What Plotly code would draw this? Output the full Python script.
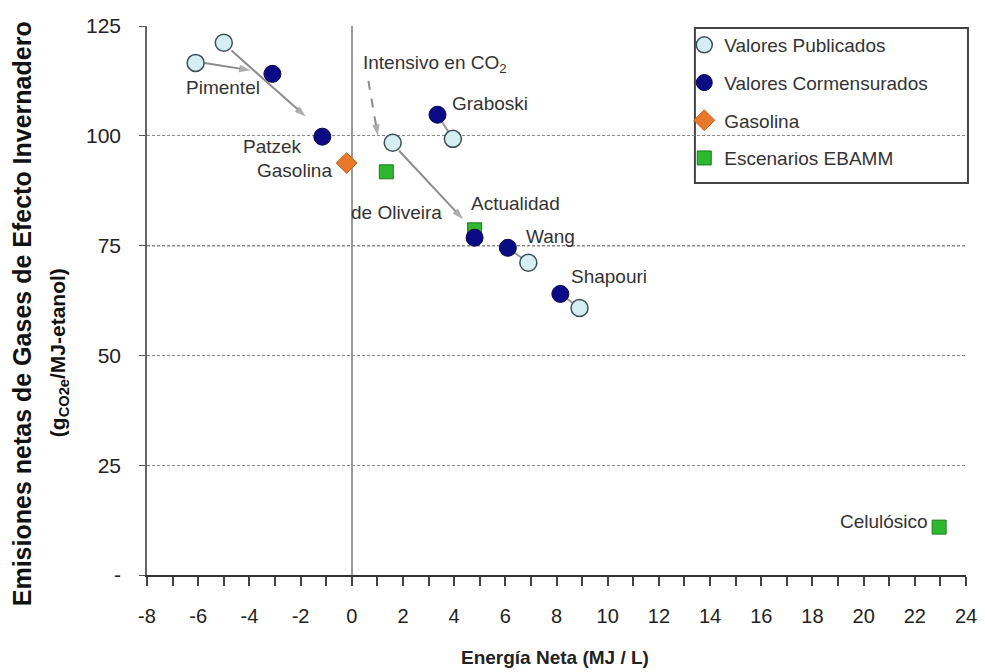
import plotly.graph_objects as go

# ---- data ----
pub_x = [-6.1, -5.0, 1.6, 3.95, 6.9, 8.9]
pub_y = [116.6, 121.2, 98.4, 99.3, 71.1, 60.8]
com_x = [-3.1, -1.15, 3.35, 4.8, 6.1, 8.15]
com_y = [114.1, 99.8, 104.8, 76.8, 74.5, 64.0]
gas_x = [-0.2]
gas_y = [93.8]
eb_x = [1.35, 4.8, 22.95]
eb_y = [91.8, 78.6, 10.9]

# pairs (published -> commensurate) linked by short segments
pair_idx = [(3, 2), (4, 4), (5, 5)]

arrow_tail_x = [-5.75, -4.7, 1.85, 0.65]
arrow_tail_y = [116.6, 119.4, 96.6, 112.5]
arrow_head_x = [-3.95, -1.8, 4.35, 1.02]
arrow_head_y = [114.9, 104.4, 81.0, 100.0]
arrow_dash = ["solid", "solid", "solid", "dash"]

labels = ["Pimentel", "Patzek", "Gasolina", "de Oliveira", "Intensivo en CO<sub>2</sub>",
          "Graboski", "Actualidad", "Wang", "Shapouri", "Celulósico"]
label_x = [-5.05, -3.1, -2.25, 1.75, 0.35, 3.85, 6.4, 7.75, 10.05, 20.8]
label_y = [111.0, 97.6, 92.2, 82.5, 116.4, 107.3, 84.7, 77.0, 67.9, 12.1]
label_anchor = ["center", "center", "center", "center", "left", "left", "center", "center", "center", "center"]

y_ticks = [0, 25, 50, 75, 100, 125]
y_ticktext = ["-", "25", "50", "75", "100", "125"]
x_ticks = list(range(-8, 25, 2))
x_ticktext = [str(v) for v in x_ticks]  # plain hyphen minus

FONT = "Liberation Sans, Arial, sans-serif"
TXT = "#333333"

fig = go.Figure()

# connector segments
cx, cy = [], []
for p, c in pair_idx:
    cx += [pub_x[p], com_x[c], None]
    cy += [pub_y[p], com_y[c], None]
fig.add_trace(go.Scatter(x=cx, y=cy, mode="lines", line=dict(color="#9a9a9a", width=2),
                         showlegend=False, hoverinfo="skip"))

# arrows
for tx, ty, hx, hy, d in zip(arrow_tail_x, arrow_tail_y, arrow_head_x, arrow_head_y, arrow_dash):
    fig.add_trace(go.Scatter(x=[tx, hx], y=[ty, hy], mode="lines+markers",
                             line=dict(color="#8c8c8c", width=2, dash=d),
                             marker=dict(symbol="arrow", size=[0, 12], angleref="previous",
                                         color="#8c8c8c", line=dict(width=0)),
                             showlegend=False, hoverinfo="skip", cliponaxis=False))

fig.add_trace(go.Scatter(x=eb_x, y=eb_y, mode="markers", name="Escenarios EBAMM", legendrank=4,
                         legendgroup="d",
                         marker=dict(symbol="square", size=14, color="#2db82d",
                                     line=dict(color="#1f7a1f", width=1)), cliponaxis=False))
fig.add_trace(go.Scatter(x=pub_x, y=pub_y, mode="markers", name="Valores Publicados", legendrank=1,
                         legendgroup="a",
                         marker=dict(symbol="circle", size=17, color="#d4eef2",
                                     line=dict(color="#3b4f55", width=1.5)), cliponaxis=False))
fig.add_trace(go.Scatter(x=com_x, y=com_y, mode="markers", name="Valores Cormensurados", legendrank=2,
                         legendgroup="b",
                         marker=dict(symbol="circle", size=17, color="#0b0b85",
                                     line=dict(color="#06064a", width=1)), cliponaxis=False))
fig.add_trace(go.Scatter(x=gas_x, y=gas_y, mode="markers", name="Gasolina", legendrank=3,
                         legendgroup="c",
                         marker=dict(symbol="diamond", size=16, color="#e8782a",
                                     line=dict(color="#c9601a", width=1)), cliponaxis=False))

annotations = []
for t, x, y, a in zip(labels, label_x, label_y, label_anchor):
    annotations.append(dict(x=x, y=y, xref="x", yref="y", text=t, showarrow=False,
                            xanchor=a, yanchor="middle",
                            font=dict(family=FONT, size=19, color=TXT)))

# axis titles
annotations.append(dict(x=-0.1526, y=0.475, xref="paper", yref="paper", textangle=-90,
                        text="<b>Emisiones netas de Gases de Efecto Invernadero</b>",
                        showarrow=False, xanchor="center", yanchor="middle",
                        font=dict(family=FONT, size=25, color="#111")))
annotations.append(dict(x=-0.108, y=0.405, xref="paper", yref="paper", textangle=-90,
                        text="<b>(g<sub>CO2e</sub>/MJ-etanol)</b>",
                        showarrow=False, xanchor="center", yanchor="middle",
                        font=dict(family=FONT, size=21, color="#111")))
annotations.append(dict(x=0.498, y=-0.151, xref="paper", yref="paper",
                        text="<b>Energía Neta (MJ / L)</b>",
                        showarrow=False, xanchor="center", yanchor="middle",
                        font=dict(family=FONT, size=19, color="#222")))

shapes = [
    dict(type="line", xref="paper", yref="y", x0=0, x1=1, y0=75, y1=75, layer="below",
         line=dict(color="#222", width=1.3, dash="3px,2px")),
    dict(type="rect", xref="paper", yref="paper", x0=0.669, x1=1.0024, y0=0.714, y1=0.9964,
         line=dict(color="#444", width=2), fillcolor="rgba(0,0,0,0)", layer="below"),
]

# the page body has an 8px margin: shrink the figure so the plot area lands where the reference has it
fig.update_layout(
    width=977, height=664,
    margin=dict(l=139, r=19, t=18, b=97, autoexpand=False),
    paper_bgcolor="white", plot_bgcolor="white",
    font=dict(family=FONT, color=TXT),
    showlegend=True,
    legend=dict(x=0.656, y=1.0, xanchor="left", yanchor="top",
                bgcolor="rgba(0,0,0,0)", borderwidth=0, tracegroupgap=10,
                font=dict(family=FONT, size=19, color=TXT)),
    annotations=annotations,
    shapes=shapes,
)
fig.update_xaxes(range=[-8, 24], tickvals=x_ticks, ticktext=x_ticktext, ticks="outside", ticklen=9,
                 tickcolor="#444", tickwidth=1.5, showline=True, linecolor="#333", linewidth=2,
                 showgrid=False, zeroline=True, zerolinecolor="#999", zerolinewidth=2,
                 minor=dict(dtick=1, tick0=0, ticks="outside", ticklen=9, tickcolor="#444", showgrid=False),
                 tickfont=dict(family=FONT, size=20, color="#222"), ticklabelstandoff=13,
                 automargin=False)
fig.update_yaxes(range=[0, 125], tickvals=y_ticks, ticktext=y_ticktext, ticks="outside", ticklen=6,
                 tickcolor="#555", showline=True, linecolor="#666", linewidth=1.5,
                 showgrid=True, gridcolor="#8a8a8a", griddash="3px,2px", gridwidth=1,
                 zeroline=False, automargin=False,
                 tickfont=dict(family=FONT, size=21, color="#222"), ticklabelstandoff=14)

fig.write_html("out.html")
